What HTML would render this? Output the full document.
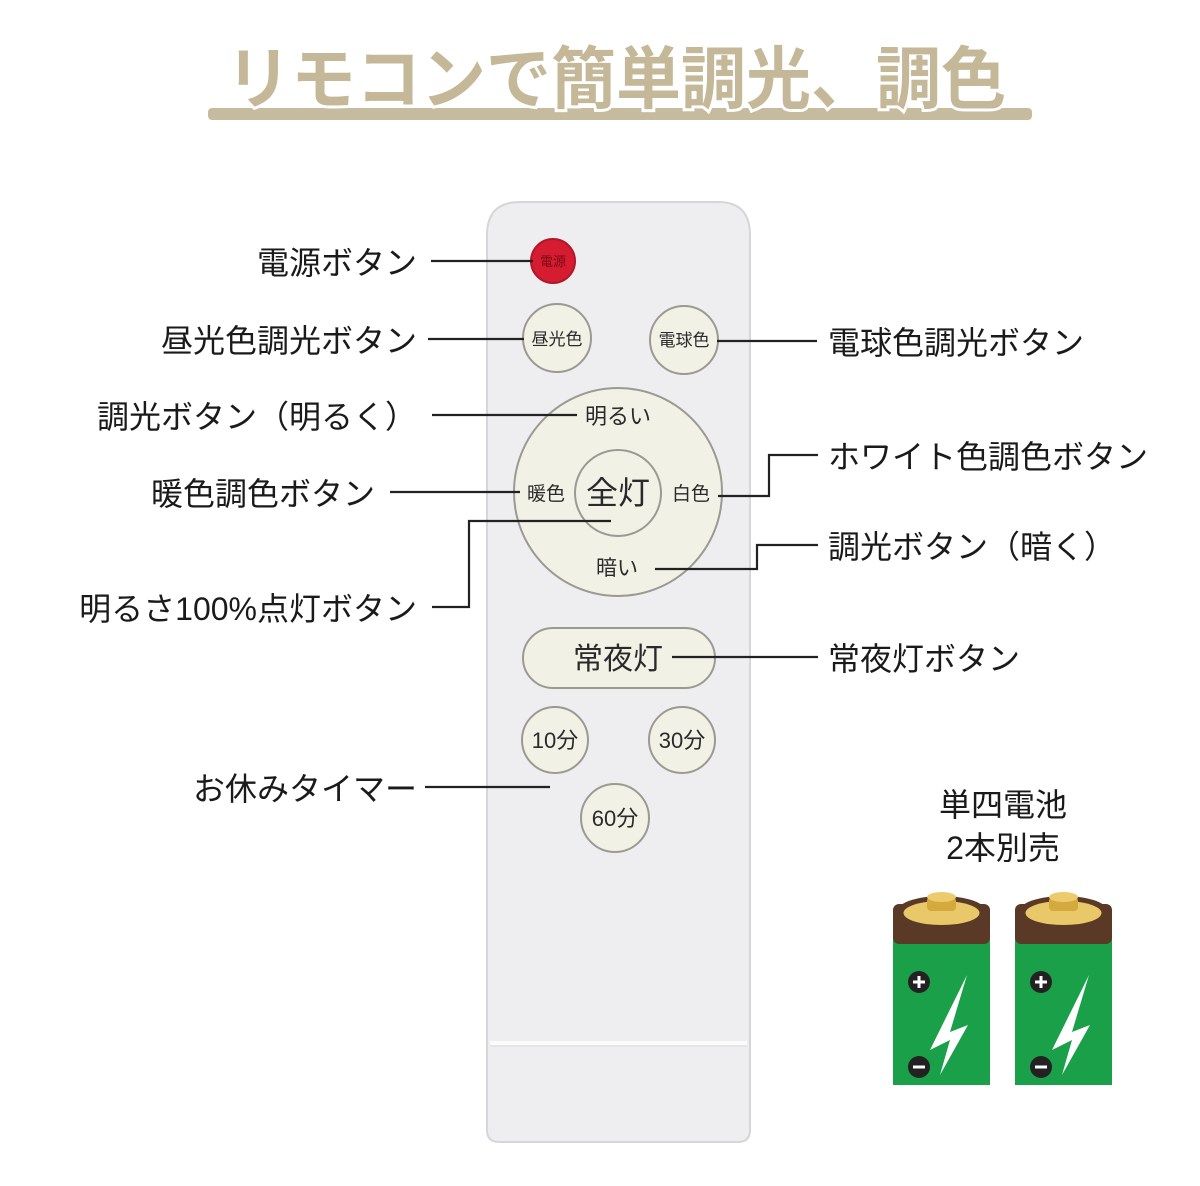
<!DOCTYPE html>
<html><head><meta charset="utf-8"><style>
html,body{margin:0;padding:0;background:#fff;}
svg{display:block;}
text{font-family:"Liberation Sans","Noto Sans CJK JP",sans-serif;}
</style></head><body>
<svg width="1200" height="1186" viewBox="0 0 1200 1186" xmlns="http://www.w3.org/2000/svg">
<!-- title -->
<rect x="208" y="108" width="824" height="12" rx="4" fill="#c6bb9e"/>
<text x="226" y="103" font-size="68" font-weight="bold" fill="#c4b898" stroke="#fff" stroke-width="6" paint-order="stroke" textLength="780" lengthAdjust="spacingAndGlyphs">リモコンで簡単調光、調色</text>

<!-- remote -->
<path d="M487,235 Q487,202 520,202 L718,202 Q750,202 750,235 L750,1130 Q750,1142 738,1142 L499,1142 Q487,1142 487,1130 Z" fill="#eeeef1" stroke="#d6d6da" stroke-width="2"/>
<line x1="490" y1="1043" x2="747" y2="1043" stroke="#fbfbfc" stroke-width="4"/>
<line x1="490" y1="1046" x2="747" y2="1046" stroke="#dcdce0" stroke-width="1"/>

<g stroke="#9a9a92" stroke-width="2" fill="#f1f1e6">
<circle cx="553" cy="261" r="22" fill="#d61c30" stroke="#b31628"/>
<circle cx="557" cy="338" r="34"/>
<circle cx="684" cy="340" r="34"/>
<circle cx="618" cy="492" r="104"/>
<circle cx="618" cy="493" r="43"/>
<rect x="523" y="628" width="192" height="60" rx="30"/>
<circle cx="555" cy="740" r="33"/>
<circle cx="682" cy="740" r="33"/>
<circle cx="615" cy="818" r="34"/>
</g>
<g fill="#2a2a2a" text-anchor="middle">
<text x="553" y="266" font-size="13" fill="#7a0a16">電源</text>
<text x="557" y="345" font-size="17">昼光色</text>
<text x="684" y="346" font-size="17">電球色</text>
<text x="618" y="424" font-size="22">明るい</text>
<text x="546" y="500" font-size="19">暖色</text>
<text x="691" y="500" font-size="19">白色</text>
<text x="618" y="504" font-size="32">全灯</text>
<text x="617" y="575" font-size="21">暗い</text>
<text x="618" y="669" font-size="30">常夜灯</text>
<text x="555" y="748" font-size="22">10分</text>
<text x="682" y="748" font-size="22">30分</text>
<text x="615" y="826" font-size="22">60分</text>
</g>

<!-- connectors -->
<g stroke="#222" stroke-width="2.2" fill="none">
<line x1="431" y1="261" x2="533" y2="261"/>
<line x1="428" y1="339" x2="524" y2="339"/>
<line x1="717" y1="341" x2="817" y2="341"/>
<line x1="432" y1="415" x2="577" y2="415"/>
<line x1="390" y1="492" x2="520" y2="492"/>
<polyline points="718,496 769,496 769,455 818,455"/>
<polyline points="611,521 469,521 469,607 432,607"/>
<polyline points="655,569 757,569 757,545 818,545"/>
<line x1="672" y1="657" x2="818" y2="657"/>
<line x1="425" y1="787" x2="550" y2="787"/>
</g>

<!-- labels -->
<g font-size="32" fill="#1a1a1a">
<g text-anchor="end">
<text x="417" y="274">電源ボタン</text>
<text x="417" y="352">昼光色調光ボタン</text>
<text x="417" y="428">調光ボタン（明るく）</text>
<text x="375" y="505">暖色調色ボタン</text>
<text x="417" y="620">明るさ100%点灯ボタン</text>
<text x="417" y="800">お休みタイマー</text>
</g>
<text x="828" y="354">電球色調光ボタン</text>
<text x="828" y="468">ホワイト色調色ボタン</text>
<text x="828" y="558">調光ボタン（暗く）</text>
<text x="828" y="670">常夜灯ボタン</text>
<g text-anchor="middle">
<text x="1003" y="816">単四電池</text>
<text x="1003" y="859">2本別売</text>
</g>
</g>

<!-- batteries -->
<g id="bat">
<rect x="893" y="930" width="97" height="155" fill="#1aa048"/>
<rect x="893" y="904" width="97" height="40" rx="6" fill="#5a3a26"/>
<ellipse cx="941.5" cy="912" rx="45" ry="16" fill="#5a3a26"/>
<ellipse cx="941.5" cy="913" rx="38" ry="12" fill="#e9c86a"/>
<rect x="927" y="897" width="29" height="14" rx="4" fill="#d4aa3e"/>
<ellipse cx="941.5" cy="897" rx="14.5" ry="5" fill="#eccb6d"/>
<circle cx="919" cy="982" r="11" fill="#222"/>
<path d="M913,982h12M919,976v12" stroke="#fff" stroke-width="3"/>
<circle cx="919" cy="1067" r="11" fill="#222"/>
<path d="M913,1067h12" stroke="#fff" stroke-width="3"/>
<path d="M967,975 L930,1050 L950,1040 L940,1075 L968,1025 L950,1032 Z" fill="#fff"/>
</g>
<use href="#bat" x="122"/>
</svg>
</body></html>
